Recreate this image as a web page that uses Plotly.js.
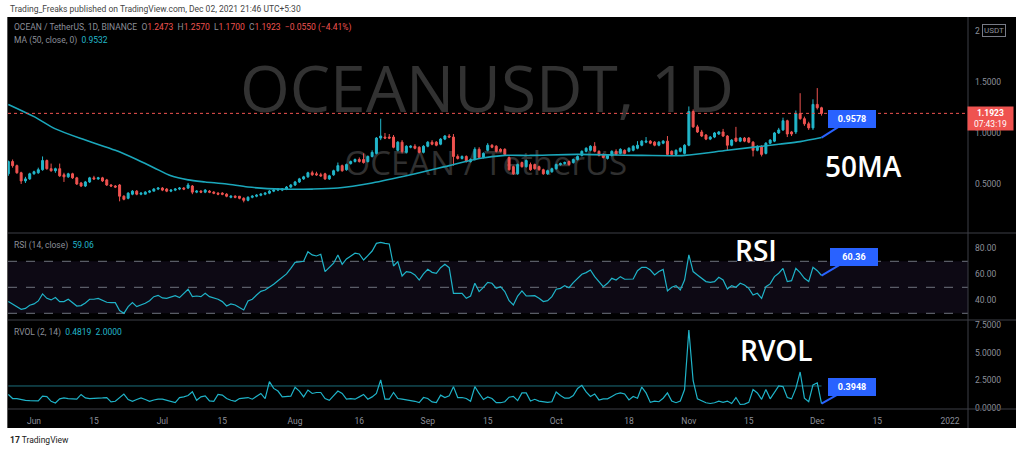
<!DOCTYPE html>
<html><head><meta charset="utf-8">
<script src="https://cdn.plot.ly/plotly-3.0.1.min.js"></script>
<style>html,body{margin:0;padding:0;background:#fff}#chart{width:1024px;height:454px}</style>
</head><body><div id="chart"></div>
<script>
// ---------- DATA ----------
const startDate = '2021-05-26';   // first daily candle
const open = [
0.60,0.72,0.68,0.61,0.53,0.55,0.60,0.61,0.64,0.73,
0.65,0.63,0.65,0.59,0.57,0.60,0.56,0.51,0.48,0.52,
0.56,0.55,0.56,0.54,0.49,0.48,0.49,0.38,0.36,0.40,
0.43,0.40,0.40,0.42,0.43,0.45,0.46,0.45,0.43,0.44,
0.45,0.46,0.46,0.48,0.42,0.43,0.42,0.43,0.42,0.41,
0.41,0.40,0.37,0.38,0.38,0.36,0.34,0.37,0.38,0.39,
0.40,0.41,0.43,0.44,0.44,0.45,0.47,0.49,0.52,0.55,
0.57,0.61,0.60,0.59,0.60,0.55,0.59,0.63,0.68,0.64,
0.70,0.72,0.74,0.74,0.72,0.77,0.80,0.95,0.96,0.96,
0.96,0.83,0.91,0.81,0.86,0.87,0.86,0.81,0.87,0.91,
0.91,0.89,0.94,0.97,0.96,0.77,0.75,0.77,0.72,0.74,
0.84,0.76,0.83,0.88,0.87,0.84,0.84,0.76,0.67,0.60,
0.71,0.67,0.69,0.69,0.67,0.64,0.60,0.62,0.65,0.69,
0.70,0.72,0.71,0.74,0.78,0.82,0.83,0.87,0.82,0.79,
0.75,0.78,0.82,0.80,0.83,0.82,0.83,0.85,0.88,0.91,
0.92,0.91,0.88,0.90,0.92,0.82,0.79,0.82,0.80,0.88,
1.21,1.06,1.01,0.98,0.94,0.96,0.99,1.01,0.97,0.88,
0.95,0.92,0.95,0.95,0.91,0.83,0.87,0.80,0.90,0.92,
1.00,1.03,1.12,1.01,1.01,1.19,1.14,1.09,1.05,1.28,1.2473];
const high = [
0.73,0.74,0.69,0.62,0.57,0.61,0.63,0.66,0.77,0.74,
0.70,0.66,0.70,0.61,0.61,0.61,0.57,0.52,0.53,0.57,
0.58,0.57,0.57,0.55,0.50,0.49,0.50,0.39,0.42,0.44,
0.44,0.42,0.43,0.44,0.46,0.47,0.47,0.46,0.45,0.46,
0.47,0.47,0.51,0.49,0.44,0.44,0.45,0.44,0.43,0.42,
0.42,0.41,0.39,0.39,0.38,0.37,0.38,0.39,0.40,0.41,
0.42,0.44,0.45,0.46,0.46,0.48,0.50,0.53,0.56,0.58,
0.62,0.63,0.62,0.61,0.61,0.59,0.64,0.71,0.69,0.70,
0.73,0.75,0.76,0.80,0.78,0.83,0.96,1.14,1.00,0.99,
0.98,0.92,0.93,0.88,0.88,0.89,0.87,0.88,0.92,0.93,
0.92,0.95,0.98,0.99,0.99,0.79,0.78,0.78,0.75,0.86,
0.86,0.81,0.90,0.89,0.88,0.85,0.85,0.77,0.68,0.70,
0.72,0.74,0.71,0.70,0.68,0.65,0.64,0.66,0.70,0.71,
0.72,0.73,0.75,0.78,0.83,0.86,0.88,0.91,0.83,0.80,
0.79,0.83,0.84,0.85,0.84,0.86,0.88,0.92,0.93,0.96,
0.93,0.92,0.92,0.93,0.97,0.83,0.84,0.86,0.89,1.26,
1.23,1.08,1.03,0.99,0.97,1.01,1.02,1.04,0.98,0.94,
1.06,0.96,0.96,0.96,0.92,0.88,0.88,0.91,0.94,1.01,
1.05,1.15,1.13,1.02,1.22,1.39,1.16,1.11,1.33,1.44,1.2570];
const low = [
0.58,0.66,0.60,0.50,0.51,0.54,0.59,0.60,0.63,0.64,
0.62,0.61,0.57,0.52,0.56,0.55,0.49,0.47,0.47,0.51,
0.54,0.54,0.52,0.48,0.47,0.46,0.33,0.34,0.35,0.39,
0.39,0.39,0.40,0.41,0.43,0.44,0.43,0.42,0.42,0.43,
0.44,0.44,0.45,0.40,0.41,0.41,0.41,0.41,0.40,0.39,
0.39,0.37,0.36,0.36,0.35,0.32,0.33,0.36,0.37,0.38,
0.39,0.40,0.42,0.43,0.43,0.44,0.46,0.48,0.51,0.54,
0.56,0.58,0.58,0.57,0.54,0.54,0.58,0.62,0.62,0.63,
0.69,0.71,0.71,0.70,0.71,0.76,0.79,0.93,0.94,0.94,
0.85,0.82,0.80,0.80,0.85,0.84,0.80,0.80,0.86,0.88,
0.87,0.88,0.93,0.95,0.68,0.74,0.74,0.71,0.71,0.73,
0.75,0.75,0.82,0.85,0.81,0.81,0.78,0.63,0.59,0.59,
0.66,0.66,0.63,0.64,0.63,0.59,0.59,0.61,0.64,0.68,
0.69,0.68,0.70,0.73,0.77,0.81,0.82,0.81,0.77,0.75,
0.74,0.77,0.78,0.79,0.79,0.81,0.82,0.84,0.87,0.90,
0.89,0.87,0.87,0.89,0.78,0.78,0.78,0.81,0.79,0.87,
1.05,1.00,0.96,0.93,0.93,0.95,0.98,0.96,0.83,0.87,
0.91,0.91,0.91,0.90,0.77,0.82,0.77,0.79,0.89,0.91,
0.99,1.02,0.96,0.97,0.99,1.13,1.07,1.03,1.03,1.23,1.1700];
const close = [
0.72,0.68,0.61,0.53,0.55,0.60,0.62,0.64,0.73,0.65,
0.63,0.65,0.58,0.57,0.60,0.56,0.50,0.48,0.52,0.56,
0.55,0.56,0.53,0.49,0.48,0.47,0.38,0.35,0.41,0.43,
0.40,0.41,0.42,0.43,0.45,0.46,0.44,0.43,0.44,0.45,
0.46,0.45,0.49,0.42,0.43,0.42,0.44,0.42,0.41,0.40,
0.40,0.38,0.38,0.37,0.36,0.34,0.37,0.38,0.39,0.40,
0.41,0.43,0.44,0.45,0.45,0.47,0.49,0.52,0.55,0.57,
0.61,0.59,0.59,0.58,0.55,0.58,0.63,0.68,0.63,0.69,
0.72,0.74,0.72,0.71,0.77,0.81,0.95,0.97,0.95,0.95,
0.86,0.91,0.82,0.87,0.87,0.85,0.81,0.87,0.91,0.89,
0.88,0.94,0.97,0.96,0.77,0.75,0.77,0.72,0.74,0.84,
0.76,0.80,0.88,0.86,0.82,0.82,0.79,0.64,0.60,0.69,
0.67,0.73,0.64,0.65,0.64,0.60,0.63,0.65,0.69,0.70,
0.71,0.69,0.74,0.77,0.82,0.85,0.87,0.82,0.78,0.76,
0.78,0.82,0.79,0.84,0.80,0.85,0.87,0.88,0.92,0.92,
0.90,0.88,0.91,0.92,0.79,0.79,0.83,0.85,0.88,1.21,
1.06,1.01,0.97,0.94,0.96,1.00,1.01,0.97,0.88,0.93,
0.92,0.95,0.92,0.91,0.83,0.87,0.79,0.90,0.93,1.00,
1.03,1.12,0.99,0.99,1.19,1.14,1.09,1.05,1.28,1.2473,1.1923];

const maDates = ['2021-05-26','2021-06-01','2021-06-06','2021-06-13','2021-06-20','2021-06-25','2021-06-29',
  '2021-07-03','2021-07-07','2021-07-11','2021-07-16','2021-07-21','2021-07-29','2021-08-05','2021-08-11',
  '2021-08-19','2021-08-28','2021-09-06','2021-09-13','2021-09-19','2021-09-25','2021-10-06','2021-10-21',
  '2021-10-31','2021-11-10','2021-11-22','2021-11-27','2021-12-02'];
const maValues = [1.28,1.16,1.04,0.93,0.83,0.74,0.66,0.58,0.54,0.52,0.50,0.47,0.45,0.45,0.46,
  0.51,0.59,0.68,0.75,0.78,0.78,0.79,0.78,0.78,0.83,0.89,0.915,0.955];

const rsi = [
39.0,37.2,35.1,33.1,33.8,36.2,37.2,39.5,44.9,41.5,
40.3,42.1,39.0,39.0,40.8,38.2,35.6,35.9,38.0,40.8,
40.8,41.5,40.3,38.5,38.2,38.2,32.1,30.0,35.1,38.2,
35.1,36.2,37.7,39.7,42.8,43.8,41.8,41.5,42.3,43.6,
42.1,45.4,48.5,42.8,43.3,42.8,45.4,42.8,41.8,40.8,
39.0,35.6,37.2,36.4,34.4,32.6,39.5,40.8,44.1,46.9,
47.9,50.0,52.3,55.1,57.7,60.3,64.6,69.2,69.5,70.0,
77.4,74.9,74.1,75.4,62.1,65.1,68.5,74.9,67.7,71.8,
74.1,76.2,75.6,71.0,74.4,77.9,83.8,84.6,83.8,83.3,
66.4,69.7,58.7,62.1,61.5,59.5,55.6,60.3,63.8,61.5,
60.8,65.1,67.7,65.1,45.4,45.4,45.4,41.5,43.3,53.1,
46.7,50.0,53.8,53.1,49.2,50.5,46.7,39.7,36.4,43.3,
47.2,43.3,43.6,43.6,41.5,39.0,39.7,42.8,48.5,49.2,
51.3,49.7,53.6,56.9,60.0,61.3,63.3,58.2,54.4,50.5,
53.1,56.9,55.6,58.2,56.2,56.2,56.4,62.8,65.4,65.4,
63.3,59.5,62.1,63.8,47.2,50.0,51.3,47.9,55.6,74.9,
62.1,59.5,56.9,54.4,53.8,54.4,57.7,55.6,48.7,51.3,
50.0,53.1,51.8,49.2,44.1,45.4,41.5,50.5,52.6,58.2,
60.8,64.6,54.4,55.1,64.6,61.3,56.9,54.4,65.4,62.8,59.06];

const rvol = [
1.23,0.86,0.86,0.77,0.70,0.67,0.64,0.64,1.07,1.04,
0.61,0.46,0.83,0.92,0.86,0.83,0.80,1.23,0.92,0.86,
0.86,0.89,0.92,0.95,0.55,0.61,0.95,1.26,0.77,0.61,
0.77,0.92,0.77,0.61,0.73,0.80,0.80,0.70,0.55,0.49,
0.95,1.01,1.14,1.48,0.70,1.01,1.10,0.64,0.61,1.23,
1.17,0.86,0.70,0.61,0.86,0.92,0.95,0.80,1.10,1.32,
0.86,2.40,1.78,1.54,1.01,1.01,1.07,1.88,1.54,1.01,
1.63,1.32,1.41,1.41,0.86,0.70,1.17,1.54,1.32,0.80,
0.86,0.80,1.01,1.23,0.80,1.01,1.32,2.56,0.80,0.80,
1.41,0.86,0.80,0.73,0.70,0.61,0.49,0.95,0.86,0.55,
0.49,1.17,0.95,1.10,1.94,0.95,0.95,0.86,0.61,1.94,
1.32,0.77,1.01,0.86,0.49,0.48,0.57,0.98,1.05,0.67,
1.37,1.37,0.63,0.79,0.63,0.57,0.51,0.57,1.46,1.14,
0.89,0.89,1.14,1.78,2.06,1.46,1.05,1.27,0.73,0.83,
0.83,1.05,1.27,1.37,1.27,0.73,1.05,0.89,1.90,1.37,
0.51,0.63,0.57,0.89,1.37,0.63,0.48,0.63,1.68,7.08,
2.48,0.83,0.67,0.48,0.41,0.48,0.63,0.51,0.63,0.41,
0.95,0.32,0.35,0.51,1.68,1.37,0.79,1.68,0.83,1.37,
2.00,1.94,0.95,0.83,1.78,3.27,0.89,0.57,2.10,2.29,0.3948];
const rvolThreshold = 2.0;

const xTickDates = ['2021-06-01','2021-06-15','2021-07-01','2021-07-15','2021-08-01','2021-08-16','2021-09-01',
  '2021-09-15','2021-10-01','2021-10-18','2021-11-01','2021-11-15','2021-12-01','2021-12-15','2022-01-01'];
const xTickLabels = ['Jun','15','Jul','15','Aug','16','Sep','15','Oct','18','Nov','15','Dec','15','2022'];
const priceTicks = [0.5, 1.0, 1.5, 2.0];
const priceTickLabels = ['0.5000', '1.0000', '1.5000', '2'];   // 2.0000 is hidden behind the USDT badge
const rsiTicks = [40, 60, 80];
const rsiLevels = [30, 50, 70];
const rvolTicks = [0, 2.5, 5, 7.5];
const lastPrice = 1.1923;
const maCallout = '0.9578', rsiCallout = '60.36', rvolCallout = '0.3948';

// ---------- helpers ----------
function dayList(start, n) {
  const t0 = Date.parse(start + 'T00:00:00Z'), out = [];
  for (let i = 0; i < n; i++) out.push(new Date(t0 + i * 86400000).toISOString().slice(0, 10));
  return out;
}
const dates = dayList(startDate, close.length);
const lastDate = dates[dates.length - 1];
const W = 1024, H = 454;
const px = x => x / W, py = y => 1 - y / H;

const UP = '#22b7cb', DOWN = '#ef5350', MA = '#1ba7bb', LINE = '#1fb3c8';
const GREY = '#8c8f99', SEP = '#3c3f47';
const FONT = 'Roboto, "Liberation Sans", sans-serif';

const traces = [
  { type: 'scatter', mode: 'text', xaxis: 'x', yaxis: 'y',
    x: ['2021-09-14 20:00', '2021-09-14 14:00'], y: [1.365, 0.67],
    text: ['OCEANUSDT, 1D', 'OCEAN / TetherUS'],
    textfont: { family: '"Open Sans", sans-serif', size: [64, 33], color: ['#323232', '#303030'] },
    hoverinfo: 'skip', showlegend: false },
  { type: 'candlestick', xaxis: 'x', yaxis: 'y4', x: dates, open: open, high: high, low: low, close: close,
    increasing: { line: { color: UP, width: 1 }, fillcolor: UP },
    decreasing: { line: { color: DOWN, width: 1 }, fillcolor: DOWN },
    whiskerwidth: 0, hoverinfo: 'skip', showlegend: false },
  { type: 'scatter', mode: 'lines', xaxis: 'x', yaxis: 'y4', x: maDates, y: maValues,
    line: { color: MA, width: 1.6, shape: 'spline', smoothing: 0.8 }, hoverinfo: 'skip', showlegend: false },
  { type: 'scatter', mode: 'lines', xaxis: 'x', yaxis: 'y2', x: dates, y: rsi,
    line: { color: LINE, width: 1.2 }, hoverinfo: 'skip', showlegend: false },
  { type: 'scatter', mode: 'lines', xaxis: 'x', yaxis: 'y3', x: [dates[0], lastDate], y: [rvolThreshold, rvolThreshold],
    line: { color: '#1c6f7c', width: 1 }, hoverinfo: 'skip', showlegend: false },
  { type: 'scatter', mode: 'lines', xaxis: 'x', yaxis: 'y3', x: dates, y: rvol,
    line: { color: LINE, width: 1.2 }, hoverinfo: 'skip', showlegend: false }
];

const yCommon = { side: 'right', anchor: 'x', showgrid: false, zeroline: false, showline: false, ticks: '',
  ticklabelstandoff: 6, tickfont: { family: FONT, size: 8.5, color: GREY }, fixedrange: true };

const shapes = [
  { type: 'rect', xref: 'paper', yref: 'paper', x0: px(7), x1: px(1016), y0: py(428), y1: py(17),
    fillcolor: '#000', line: { width: 0 }, layer: 'below' },
  { type: 'rect', xref: 'paper', yref: 'y2', x0: px(8), x1: px(968), y0: rsiLevels[0], y1: rsiLevels[2],
    fillcolor: 'rgba(126,87,194,0.1)', line: { width: 0 }, layer: 'below' },
  ...rsiLevels.map(v => ({ type: 'line', xref: 'paper', yref: 'y2', x0: px(8), x1: px(968), y0: v, y1: v,
    line: { color: '#6f727c', width: 1, dash: 'dash' }, layer: 'below' })),
  { type: 'line', xref: 'paper', yref: 'y', x0: px(8), x1: px(968), y0: lastPrice, y1: lastPrice,
    line: { color: '#ef5350', width: 1, dash: 'dot' }, layer: 'above' },
  ...[233, 320, 409].map(y => ({ type: 'line', xref: 'paper', yref: 'paper', x0: px(7), x1: px(1016), y0: py(y), y1: py(y),
    line: { color: SEP, width: 1 }, layer: 'above' })),
  { type: 'line', xref: 'paper', yref: 'paper', x0: px(968), x1: px(968), y0: py(428), y1: py(17),
    line: { color: SEP, width: 1 }, layer: 'above' },
  { type: 'line', xref: 'paper', yref: 'paper', x0: px(7.5), x1: px(7.5), y0: py(428), y1: py(17),
    line: { color: '#555', width: 1 }, layer: 'above' }
];

const red = s => '<span style="color:#ef5350">' + s + '</span>';
const teal = s => '<span style="color:#22b7cb">' + s + '</span>';
function txt(text, x, y, size, color, extra) {
  return Object.assign({ xref: 'paper', yref: 'paper', x: px(x), y: py(y), xanchor: 'left', yanchor: 'middle',
    text: text, showarrow: false, font: { family: FONT, size: size, color: color } }, extra || {});
}
function callout(text, yref, yval, ax, ay) {
  return { xref: 'x', yref: yref, x: lastDate, y: yval, ax: ax, ay: ay, text: '<b>' + text + '</b>',
    showarrow: true, arrowhead: 0, arrowwidth: 2, arrowcolor: '#2962ff', standoff: 0,
    bgcolor: '#2962ff', bordercolor: '#2962ff', borderpad: 3, width: 40,
    font: { family: FONT, size: 9, color: '#fff' } };
}
const bigFont = { family: '"Open Sans", sans-serif', size: 28, color: '#fff', weight: 600 };

const annotations = [
  txt('Trading_Freaks published on TradingView.com, Dec 02, 2021 21:46 UTC+5:30', 8, 9.5, 8.5, '#444'),
  txt('OCEAN / TetherUS, 1D, BINANCE  O' + red('1.2473') + '  H' + red('1.2570') + '  L' + red('1.1700') +
      '  C' + red('1.1923') + '  ' + red('\u22120.0550 (\u22124.41%)'), 12, 27, 8.5, GREY),
  txt('MA (50, close, 0)  ' + teal('0.9532'), 12, 40, 8.5, GREY),
  txt('RSI (14, close)  ' + teal('59.06'), 12, 245, 8.5, GREY),
  txt('RVOL (2, 14)  ' + teal('0.4819') + '  ' + teal('2.0000'), 12, 332, 8.5, GREY),
  txt('USDT', 993.5, 30.5, 8, GREY, { xanchor: 'center', bgcolor: '#000', bordercolor: '#787b86', borderwidth: 1, borderpad: 1 }),
  txt('<b>1.1923</b><br>07:43:19', 990.5, 118.5, 8.5, '#fff', { xanchor: 'center', bgcolor: '#ef5350', borderpad: 1, width: 43, align: 'center' }),
  txt('50MA', 863, 166, 28, '#fff', { xanchor: 'center', font: bigFont }),
  txt('RSI', 756, 250, 28, '#fff', { xanchor: 'center', font: bigFont }),
  txt('RVOL', 776, 350, 28, '#fff', { xanchor: 'center', font: bigFont }),
  callout(maCallout, 'y4', maValues[maValues.length - 1], 30, -19),
  callout(rsiCallout, 'y2', rsi[rsi.length - 1], 32, -19),
  callout(rvolCallout, 'y3', rvol[rvol.length - 1], 30, -17),
  txt('<b>17</b> TradingView', 8, 440, 8.5, '#222')
];

const layout = {
  width: W, height: H, margin: { l: 0, r: 0, t: 0, b: 0 },
  paper_bgcolor: '#fff', plot_bgcolor: 'rgba(0,0,0,0)', showlegend: false, boxgap: 0.35,
  font: { family: FONT },
  xaxis: { type: 'date', domain: [px(8), px(968)], range: ['2021-05-25 22:12', '2022-01-05 05:17'], anchor: 'y3',
    tickvals: xTickDates, ticktext: xTickLabels, ticks: '', ticklabelstandoff: 5, showgrid: false, zeroline: false, showline: false,
    tickfont: { family: FONT, size: 8.5, color: GREY }, rangeslider: { visible: false }, fixedrange: true },
  yaxis: Object.assign({}, yCommon, { domain: [py(233), py(18)], range: [0.0196, 2.127], tickvals: priceTicks, ticktext: priceTickLabels }),
  yaxis4: { overlaying: 'y', range: [0.0196, 2.127], visible: false, fixedrange: true },
  yaxis2: Object.assign({}, yCommon, { domain: [py(320), py(233)], range: [24.85, 91.77], tickvals: rsiTicks, tickformat: '.2f' }),
  yaxis3: Object.assign({}, yCommon, { domain: [py(409), py(320)], range: [-0.09, 7.99], tickvals: rvolTicks, tickformat: '.4f' }),
  shapes: shapes, annotations: annotations
};

Plotly.newPlot('chart', traces, layout, { staticPlot: true, displayModeBar: false });
</script></body></html>
